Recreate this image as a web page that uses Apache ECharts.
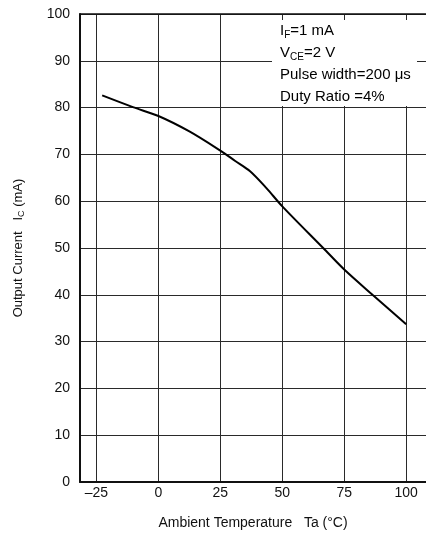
<!DOCTYPE html>
<html>
<head>
<meta charset="utf-8">
<script src="https://cdn.jsdelivr.net/npm/echarts@6/dist/echarts.min.js"></script>
<style>
    html, body { margin: 0; padding: 0; background: #fff; }
    #chart { width: 426px; height: 537px; }
</style>
</head>
<body>
<div id="chart"></div>
<script>
// 数据
var xTicks = [-25, 0, 25, 50, 75, 100];
var yTicks = [0, 10, 20, 30, 40, 50, 60, 70, 80, 90, 100];
var temps = [-22.7, -10.3, 0, 12.5, 25, 31, 37, 43.6, 50, 66.5, 75, 86.4, 100];
var currents = [82.6, 80.1, 78.2, 74.9, 70.8, 68.6, 66.4, 62.8, 58.9, 50, 45.4, 40, 33.7];
var notes = ['{t|I}{s|F}{t|=1 mA}', '{t|V}{s|CE}{t|=2 V}', '{t|Pulse width=200 μs}', '{t|Duty Ratio =4%}'];

(function() {
    var myChart = echarts.init(document.getElementById('chart'));
    var font = '"Liberation Sans Narrow", "Liberation Sans", Arial, sans-serif';
    var gridLine = { show: true, lineStyle: { color: '#2a2a2a', width: 1, type: 'solid' } };

    var option = {
        backgroundColor: '#fff',
        animation: false,
        textStyle: { fontFamily: font, color: '#111' },
        grid: { left: 80, top: 14, right: 0, bottom: 55 },
        xAxis: [{
            type: 'value',
            min: -31.65,
            max: 108,
            name: 'Ambient Temperature   Ta (°C)',
            nameLocation: 'middle',
            nameGap: 34,
            nameTextStyle: { fontFamily: font, fontSize: 14, color: '#111' },
            axisLine: { show: true, onZero: false, lineStyle: { color: '#111', width: 2 } },
            axisTick: { show: false, customValues: xTicks },
            axisLabel: { customValues: xTicks, margin: 4, fontFamily: font, fontSize: 14, color: '#111',
                formatter: function(v) { return v < 0 ? '\u2013' + (-v) : v; } },
            splitLine: gridLine
        }, {
            type: 'value',
            position: 'top',
            min: -31.65,
            max: 108,
            axisLine: { show: true, onZero: false, lineStyle: { color: '#111', width: 1.5 } },
            axisTick: { show: false },
            axisLabel: { show: false },
            splitLine: { show: false }
        }],
        yAxis: {
            type: 'value',
            min: 0,
            max: 100,
            interval: 10,
            name: '{t|Output Current   I}{s|C}{t| (mA)}',
            nameLocation: 'middle',
            nameGap: 54,
            nameTextStyle: {
                rich: {
                    t: { fontFamily: font, fontSize: 13, color: '#111' },
                    s: { fontFamily: font, fontSize: 9, color: '#111', verticalAlign: 'bottom', padding: [6, 0, 0, 0] }
                }
            },
            axisLine: { show: true, onZero: false, lineStyle: { color: '#111', width: 2 } },
            axisTick: { show: false },
            axisLabel: { margin: 10, fontFamily: font, fontSize: 14, color: '#111' },
            splitLine: gridLine
        },
        graphic: [{
            type: 'rect',
            left: 272,
            top: 20,
            shape: { width: 145, height: 86 },
            style: { fill: '#fff' },
            z: 5
        }, {
            type: 'text',
            left: 280,
            top: 20,
            z: 6,
            style: {
                text: notes.join('\n'),
                lineHeight: 22,
                rich: {
                    t: { fontFamily: font, fontSize: 15, color: '#111', lineHeight: 22 },
                    s: { fontFamily: font, fontSize: 10, color: '#111', lineHeight: 22, padding: [8, 0, 0, 0] }
                }
            }
        }],
        series: [{
            type: 'line',
            smooth: 0.3,
            showSymbol: false,
            lineStyle: { color: '#000', width: 2 },
            data: temps.map(function(t, i) { return [t, currents[i]]; }),
            z: 4
        }]
    };
    myChart.setOption(option);
})();
</script>
</body>
</html>
